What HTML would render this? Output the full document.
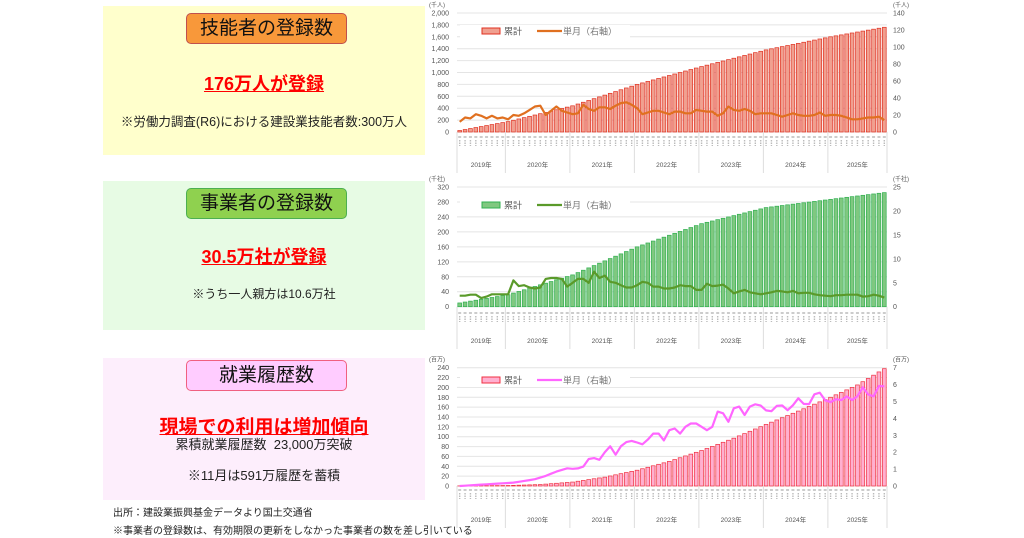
<!DOCTYPE html>
<html><head><meta charset="utf-8"><style>
body{margin:0;background:#fff;width:1024px;height:538px;overflow:hidden;font-family:"Liberation Sans","Noto Sans CJK JP",sans-serif}
.p{position:absolute;left:103px;width:322px}
.tb{position:absolute;left:83px;width:159px;height:29px;border-radius:5px;font-size:19px;text-align:center;line-height:29px;color:#111}
.r{position:absolute;left:0;width:322px;text-align:center;color:#f00;font-weight:bold;text-decoration:underline}
.n{position:absolute;left:0;width:322px;text-align:center;color:#222}
svg{position:absolute;left:0;top:0}
</style></head><body>
<div class="p" style="top:6px;height:149px;background:#ffffcc">
 <div class="tb" style="top:7px;background:#f8983a;border:1px solid #c0504d">技能者の登録数</div>
 <div class="r" style="top:64px;font-size:18px">176万人が登録</div>
 <div class="n" style="top:105px;font-size:12.5px">※労働力調査(R6)における建設業技能者数:300万人</div>
</div>
<div class="p" style="top:181px;height:149px;background:#e7fbe4">
 <div class="tb" style="top:7px;background:#8fd14f;border:1px solid #4caf50">事業者の登録数</div>
 <div class="r" style="top:62px;font-size:18px">30.5万社が登録</div>
 <div class="n" style="top:104px;font-size:12px">※うち一人親方は10.6万社</div>
</div>
<div class="p" style="top:358px;height:142px;background:#fdeefc">
 <div class="tb" style="top:2px;background:#ffccff;border:1px solid #f06080">就業履歴数</div>
 <div class="r" style="top:54px;font-size:19px">現場での利用は増加傾向</div>
 <div class="n" style="top:76px;font-size:13px">累積就業履歴数&nbsp; 23,000万突破</div>
 <div class="n" style="top:107px;font-size:13px">※11月は591万履歴を蓄積</div>
</div>
<div style="position:absolute;left:113px;top:504px;font-size:10px;color:#222">出所：建設業振興基金データより国土交通省</div>
<div style="position:absolute;left:113px;top:522px;font-size:10px;color:#222">※事業者の登録数は、有効期限の更新をしなかった事業者の数を差し引いている</div>
<svg id="s" width="1024" height="538" font-family="Liberation Sans, Noto Sans CJK JP, sans-serif"></svg>
<script>
const N=80,X0=457,X1=887,W=(X1-X0)/N;
let h='';
function interp(pts){let out=[];for(let i=0;i<N;i++){let j=0;while(j<pts.length-2&&pts[j+1][0]<i)j++;const[a,va]=pts[j],[b,vb]=pts[j+1];out.push(va+(vb-va)*(i-a)/(b-a));}return out;}
function chart(o){
 const {y0,y1,lmax,lstep,rmax,rstep,cum,mon,fill,stroke,lc,unitL,unitR,my,yy,ly}=o;
 const sy=v=>y0-(y0-y1)*v/lmax, sr=v=>y0-(y0-y1)*v/rmax;
 for(let v=0;v<=lmax+1e-9;v+=lstep){const y=sy(v);
  h+=`<line x1="${X0}" x2="${X1}" y1="${y}" y2="${y}" stroke="#e4e4e4" stroke-width="1"/>`;
  h+=`<text x="${X0-8}" y="${y+2.5}" font-size="7" fill="#555" text-anchor="end">${v.toLocaleString('en')}</text>`;}
 for(let v=0;v<=rmax+1e-9;v+=rstep){h+=`<text x="${X1+6}" y="${sr(v)+2.5}" font-size="7" fill="#555">${v}</text>`;}
 h+=`<text x="${X0-28}" y="${y1-6}" font-size="6" fill="#555">${unitL}</text>`;
 if(unitR)h+=`<text x="${X1+6}" y="${y1-6}" font-size="6" fill="#555">${unitR}</text>`;
 for(let i=0;i<N;i++){const x=X0+i*W+0.8,y=sy(cum[i]);
  h+=`<rect x="${x}" y="${y}" width="${W-1.6}" height="${y0-y}" fill="${fill}" stroke="${stroke}" stroke-width="0.7"/>`;}
 let pts=mon.map((v,i)=>`${(X0+i*W+W/2).toFixed(1)},${sr(v).toFixed(1)}`).join(' ');
 h+=`<polyline points="${pts}" fill="none" stroke="${lc}" stroke-width="2.2" stroke-linejoin="round"/>`;
 h+=`<rect x="${X0+3}" y="${ly-6}" width="170" height="13" fill="#fff"/>`;
 h+=`<rect x="${X0+25}" y="${ly-3}" width="18" height="6" fill="${fill}" stroke="${stroke}"/>`;
 h+=`<text x="${X0+47}" y="${ly+3.5}" font-size="9" fill="#555">累計</text>`;
 h+=`<line x1="${X0+80}" x2="${X0+105}" y1="${ly}" y2="${ly}" stroke="${lc}" stroke-width="2.2"/>`;
 h+=`<text x="${X0+106}" y="${ly+3.5}" font-size="9" fill="#777">単月（右軸）</text>`;
 const seps=[0,9,21,33,45,57,69,80],yrs=['2019年','2020年','2021年','2022年','2023年','2024年','2025年'];
 for(let k=0;k<seps.length;k++){const x=X0+seps[k]*W;
  h+=`<line x1="${x}" x2="${x}" y1="${y0}" y2="${yy+8}" stroke="#ddd"/>`;
  if(k<7)h+=`<text x="${(x+X0+seps[k+1]*W)/2}" y="${yy+2}" font-size="6.5" fill="#555" text-anchor="middle">${yrs[k]}</text>`;}
 for(let i=0;i<N;i++){const x=X0+i*W+W/2;
  h+=`<line x1="${x-1.5}" x2="${x+1.5}" y1="${my}" y2="${my}" stroke="#aaa" stroke-width="1.2"/>`;
  h+=`<line x1="${x}" x2="${x}" y1="${my+3}" y2="${my+9}" stroke="#bbb" stroke-width="1.4" stroke-dasharray="1.5,1"/>`;}
}
const m1=[12,17,16,21,19,16,19,16,17,15,20,19,22,26,30,31,20,25,30,25,23,21,22,32,27,25,29,29,27,31,34,35,32,28,21,23,25,25,23,21,24,24,22,22,26,25,24,24,19,22,30,26,25,27,25,21,22,22,22,20,18,20,22,20,19,19,20,23,19,20,20,19,17,15,15,16,17,16,19,20];
m1[76]=17;m1[77]=17;m1[78]=18;m1[79]=14;
let c1=interp([[0,25],[9,175],[21,440],[33,800],[45,1100],[57,1380],[69,1600],[79,1760]]);
chart({y0:132,y1:13,lmax:2000,lstep:200,rmax:140,rstep:20,cum:c1,mon:m1,fill:'#f0a090',stroke:'#e03020',lc:'#e07020',unitL:'(千人)',unitR:'(千人)',my:137,yy:165,ly:31});
const m2=[2.3,2.3,2.5,2.5,1.8,2.1,2.6,2.6,2.6,2.6,5.5,4.3,4.5,4,3.8,4,5.8,6,6,5.8,4.2,5,5.8,5.8,5,7.3,6,6.5,5.2,5,4.5,4,4,4.5,5.2,5,4.2,4.2,3.8,3.8,4,4.5,4.3,4.3,3.5,3.5,4.8,4.3,4.4,4.6,3.8,2.8,3.2,3.5,3,2.8,2.6,2.8,3,3.3,3.2,3,3.3,2.8,2.9,2.9,2.6,2.4,2.3,2.2,2.4,2.4,2.5,2.5,2.5,2.1,2.2,2.5,2.3,1.9];
let c2=interp([[0,10],[9,32],[21,85],[33,160],[45,222],[57,265],[69,287],[79,305]]);
chart({y0:306.7,y1:187,lmax:320,lstep:40,rmax:25,rstep:5,cum:c2,mon:m2,fill:'#80c880',stroke:'#30b050',lc:'#5a9a2a',unitL:'(千社)',unitR:'(千社)',my:313,yy:341,ly:205});
let m3=interp([[0,0],[5,0.1],[10,0.2],[12,0.3],[14,0.4],[16,0.6],[18,0.85],[20,1.05],[21.6,1.0],[23,1.15],[24,1.6],[25,1.65],[26,1.55],[27,2.0],[28,2.35],[29,1.85],[30,2.35],[31,2.6],[32.5,2.7],[33.7,2.4],[34.6,2.6],[36,3.1],[37,3.1],[38,2.7],[39,3.3],[40,3.4],[41,3.1],[42,3.5],[43.5,3.8],[46,3.3],[47,3.5],[48,4.4],[49,4.3],[50,3.8],[51,4.6],[52,4.7],[53,4.2],[54,4.7],[55.5,4.9],[57.6,4.3],[59.5,4.9],[61.3,4.4],[62.6,5.1],[63.5,5.3],[64.4,4.5],[66.3,5.6],[67.2,5.5],[68.5,4.8],[69.7,5.2],[70.6,5.0],[72,5.3],[73.4,5.0],[75.3,6.0],[76.5,5.0],[78.3,6.1],[79,5.9]]);
let c3=interp([[0,0.2],[9,1],[15,3],[21,8],[27,18],[33,32],[39,50],[45,72],[51,97],[57,125],[63,152],[69,180],[74,205],[79,238]]);
chart({y0:486,y1:367.7,lmax:240,lstep:20,rmax:7,rstep:1,cum:c3,mon:m3,fill:'#ffb0d0',stroke:'#f03040',lc:'#ff66ff',unitL:'(百万)',unitR:'(百万)',my:490,yy:520,ly:380});
document.getElementById('s').innerHTML=h;
</script>
</body></html>
